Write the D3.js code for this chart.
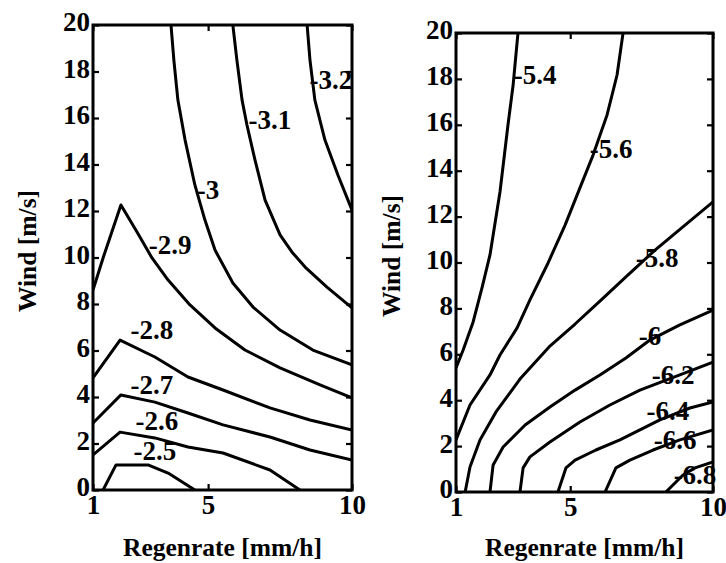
<!DOCTYPE html>
<html>
  <head>
    <meta charset="utf-8">
    <title>contour-regenrate-wind</title>
    <script type="text/javascript" src="https://cdn.jsdelivr.net/npm/d3@7/dist/d3.min.js"></script>
    <style type="text/css">
      body { margin: 0; background: #fff; }
      svg text { font-family: "Liberation Serif", "Times New Roman", Times, "DejaVu Serif", serif !important; font-weight: bold; fill: #000; }
    </style>
  </head>
  <body>
    <script type="text/javascript">
      // axes
      var xTicks = [1, 5, 10];
      var yTicks = [0, 2, 4, 6, 8, 10, 12, 14, 16, 18, 20];
      var xTitle = "Regenrate [mm/h]";
      var yTitle = "Wind [m/s]";

      // left panel: contour levels, lines [regenrate, wind], label spots
      var leftLevels = ["-2.5", "-2.6", "-2.7", "-2.8", "-2.9", "-3", "-3.1", "-3.2"];
      var leftContours = [
        [[1.35,0],[1.80,1.08],[2.91,1.08],[3.61,0.73],[4.54,0]],
        [[1,1.51],[1.94,2.49],[3.15,2.24],[4.30,1.85],[5.52,1.59],[7.15,0.86],[8.19,0]],
        [[1,2.88],[1.97,4.09],[3.15,3.78],[4.30,3.31],[5.52,2.80],[7.15,2.28],[8.54,1.72],[10,1.29]],
        [[1,4.82],[1.94,6.45],[3.15,5.72],[4.30,4.86],[5.52,4.30],[7.15,3.53],[8.54,3.01],[10,2.58]],
        [[1,8.60],[1.35,9.98],[1.97,12.26],[2.53,11.10],[3.05,9.98],[3.61,9.03],[4.37,7.96],[5.24,6.97],[6.28,6.02],[7.50,5.25],[8.89,4.52],[10,3.96]],
        [[3.71,20],[3.81,18.49],[3.95,16.77],[4.20,15.05],[4.54,13.12],[4.89,11.61],[5.24,10.32],[5.86,8.90],[6.56,7.87],[7.50,6.88],[8.64,6.02],[10,5.38]],
        [[5.86,20],[6.00,18.49],[6.18,16.77],[6.35,15.70],[6.63,14.19],[6.98,12.47],[7.50,10.97],[7.91,10.24],[8.37,9.59],[9.13,8.73],[10,7.83]],
        [[8.44,20],[8.54,18.49],[8.71,16.77],[9.06,15.05],[9.51,13.55],[10,12.04]]
      ];
      var leftLabelAt = [[3.15,1.68],[3.22,2.97],[3.05,4.52],[3.05,6.88],[3.68,10.54],[5.00,12.90],[7.15,15.91],[9.27,17.63]];

      // right panel
      var rightLevels = ["-5.4", "-5.6", "-5.8", "-6", "-6.2", "-6.4", "-6.6", "-6.8"];
      var rightContours = [
        [[3.17,20],[3.00,17.73],[2.82,15.99],[2.54,13.07],[2.19,10.33],[1.91,8.89],[1.60,7.41],[1.25,6.19],[1,5.40]],
        [[6.85,20],[6.64,18.17],[6.29,16.43],[5.80,14.68],[5.34,13.25],[4.82,11.63],[4.19,9.89],[3.59,8.37],[3.14,7.15],[2.54,5.97],[2.19,5.10],[1.49,3.79],[1,2.27]],
        [[10,12.64],[9.02,11.63],[7.97,10.54],[6.95,9.37],[6.04,8.32],[5.17,7.32],[4.29,6.36],[3.24,4.92],[2.40,3.49],[1.84,2.27],[1.49,1.09],[1.32,0]],
        [[10,7.93],[8.84,7.28],[7.79,6.62],[6.95,5.84],[6.04,5.10],[5.17,4.44],[4.29,3.70],[3.42,2.92],[2.65,1.96],[2.30,1.18],[2.19,0]],
        [[10,5.66],[8.84,5.10],[7.44,4.44],[6.39,3.79],[5.34,3.05],[4.29,2.18],[3.59,1.53],[3.35,1.05],[3.24,0]],
        [[10,3.92],[9.19,3.66],[8.14,3.14],[6.74,2.27],[5.90,1.83],[5.17,1.39],[4.85,1.05],[4.57,0]],
        [[10,2.70],[8.84,2.27],[7.90,1.83],[7.09,1.39],[6.60,1.05],[6.22,0]],
        [[10,1.31],[9.37,1.05],[8.95,0.74],[8.35,0]]
      ];
      var rightLabelAt = [[3.77,18.17],[6.43,14.95],[8.04,10.20],[7.79,6.80],[8.60,5.10],[8.42,3.53],[8.67,2.27],[9.37,0.74]];

      var w = 726, h = 563;
      var font = "'Liberation Serif', 'Times New Roman', Times, 'DejaVu Serif', serif";
      var svg = d3.select("body").append("svg")
                  .attr("width", w)
                  .attr("height", h)
                  .attr("font-family", font);
      svg.append("rect").attr("width", w).attr("height", h).attr("fill", "#fff");

      function drawPanel(id, box, levels, contours, labelAt, titlePos) {
        var x = d3.scaleLinear().domain([1, 10]).range([box.x0, box.x1]);
        var y = d3.scaleLinear().domain([0, 20]).range([box.y1, box.y0]);
        var g = svg.append("g");

        g.append("clipPath").attr("id", id)
         .append("rect")
         .attr("x", box.x0).attr("y", box.y0)
         .attr("width", box.x1 - box.x0).attr("height", box.y1 - box.y0);

        var line = d3.line()
                     .x(function(d) { return x(d[0]); })
                     .y(function(d) { return y(d[1]); });

        g.append("g").attr("clip-path", "url(#" + id + ")")
         .selectAll("path")
         .data(contours)
         .enter()
         .append("path")
         .attr("d", line)
         .attr("fill", "none")
         .attr("stroke", "#000")
         .attr("stroke-width", 3)
         .attr("stroke-linejoin", "round");

        // axes, ticks pointing inward
        var ax = [
          d3.axisLeft(y).tickValues(yTicks).tickSizeInner(-6).tickSizeOuter(0).tickPadding(3),
          d3.axisRight(y).tickValues(yTicks).tickSizeInner(-6).tickSizeOuter(0).tickFormat(""),
          d3.axisBottom(x).tickValues(xTicks).tickSizeInner(-6).tickSizeOuter(0).tickPadding(5),
          d3.axisTop(x).tickValues(xTicks).tickSizeInner(-6).tickSizeOuter(0).tickFormat("")
        ];
        var at = ["translate(" + box.x0 + ",0)", "translate(" + box.x1 + ",0)",
                  "translate(0," + box.y1 + ")", "translate(0," + box.y0 + ")"];
        ax.forEach(function(a, i) {
          var ga = g.append("g").attr("transform", at[i]).call(a)
                    .attr("font-family", font).attr("font-size", 27);
          ga.select(".domain").remove();
          ga.selectAll("line").attr("stroke", "#000").attr("stroke-width", 2.2);
          ga.selectAll("text").attr("fill", "#000").attr("font-weight", "bold");
          if (i === 0) ga.selectAll("text").attr("dy", "0.22em");
        });

        g.append("rect")
         .attr("x", box.x0).attr("y", box.y0)
         .attr("width", box.x1 - box.x0).attr("height", box.y1 - box.y0)
         .attr("fill", "none").attr("stroke", "#000").attr("stroke-width", 3);

        g.selectAll("text.clabel")
         .data(levels)
         .enter()
         .append("text")
         .attr("class", "clabel")
         .attr("x", function(d, i) { return x(labelAt[i][0]); })
         .attr("y", function(d, i) { return y(labelAt[i][1]); })
         .attr("text-anchor", "middle")
         .attr("dominant-baseline", "central")
         .attr("font-size", "27px")
         .text(function(d) { return d; });

        g.append("text")
         .attr("x", (box.x0 + box.x1) / 2)
         .attr("y", 556)
         .attr("text-anchor", "middle")
         .attr("font-size", "25.5px")
         .text(xTitle);

        g.append("text")
         .attr("transform", "translate(" + titlePos[0] + "," + titlePos[1] + ") rotate(-90)")
         .attr("text-anchor", "middle")
         .attr("dominant-baseline", "central")
         .attr("font-size", "25.5px")
         .text(yTitle);
      }

      drawPanel("clipL", {x0: 93, x1: 352, y0: 25, y1: 490}, leftLevels, leftContours, leftLabelAt, [27, 251]);
      drawPanel("clipR", {x0: 456, x1: 713, y0: 33, y1: 492}, rightLevels, rightContours, rightLabelAt, [391, 256]);
    </script>
  </body>
</html>
